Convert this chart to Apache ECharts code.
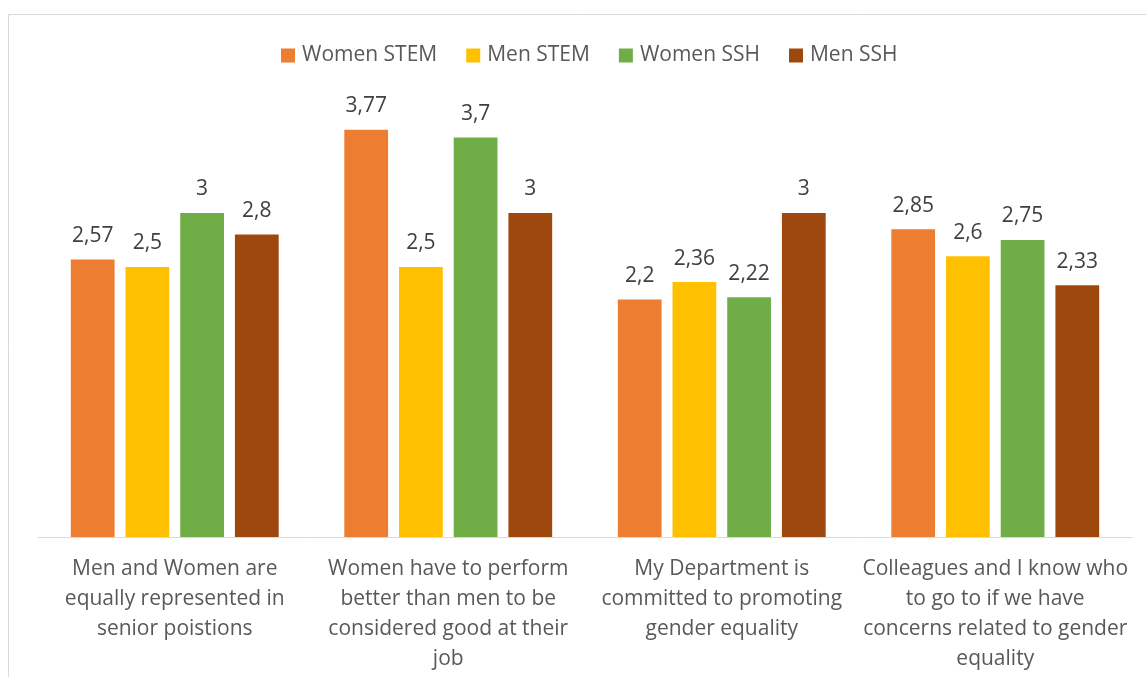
<!DOCTYPE html>
<html>
<head>
<meta charset="utf-8">
<style>
html,body{margin:0;padding:0;background:#fff;}
#chart{width:1146px;height:677px;}
</style>
<script src="https://cdn.jsdelivr.net/npm/echarts@6/dist/echarts.min.js"></script>
</head>
<body>
<div id="chart"></div>
<script>
const categories = [
  "Men and Women are\nequally represented in\nsenior poistions",
  "Women have to perform\nbetter than men to be\nconsidered good at their\njob",
  "My Department is\ncommitted to promoting\ngender equality",
  "Colleagues and I know who\nto go to if we have\nconcerns related to gender\nequality"
];
const seriesNames = ["Women STEM", "Men STEM", "Women SSH", "Men SSH"];
const womenSTEM = [2.57, 3.77, 2.2, 2.85];
const menSTEM = [2.5, 2.5, 2.36, 2.6];
const womenSSH = [3, 3.7, 2.22, 2.75];
const menSSH = [2.8, 3, 3, 2.33];
const colors = ["#ED7D31", "#FFC000", "#70AD47", "#9E480E"];

const FONT = "'Open Sans', sans-serif";
const allData = [womenSTEM, menSTEM, womenSSH, menSSH];

const chart = echarts.init(document.getElementById('chart'), null, {renderer: 'canvas'});
chart.setOption({
  animation: false,
  backgroundColor: '#ffffff',
  color: colors,
  graphic: [{
    type: 'rect',
    silent: true,
    z: -10,
    shape: {x: 8.5, y: 14.5, width: 1300, height: 800},
    style: {fill: 'none', stroke: '#D9D9D9', lineWidth: 1}
  }],
  legend: {
    left: 276,
    top: 40,
    itemWidth: 14,
    itemHeight: 14,
    itemGap: 29,
    icon: 'rect',
    data: seriesNames,
    textStyle: {fontFamily: FONT, fontSize: 21, color: '#595959', padding: [0, 0, 0, 2]}
  },
  grid: {left: 38, right: 14, top: 105, bottom: 140, containLabel: false},
  xAxis: {
    type: 'category',
    data: categories,
    axisTick: {show: false},
    axisLine: {lineStyle: {color: '#D9D9D9', width: 1}},
    axisLabel: {
      interval: 0,
      margin: 17,
      fontFamily: FONT,
      fontSize: 21,
      lineHeight: 30,
      color: '#595959',
      align: 'center'
    }
  },
  yAxis: {
    type: 'value',
    min: 0,
    max: 4,
    show: false,
    splitLine: {show: false}
  },
  series: seriesNames.map((name, i) => ({
    name: name,
    type: 'bar',
    data: allData[i],
    barGap: '25%',
    barCategoryGap: '24%',
    itemStyle: {color: colors[i]},
    label: {
      show: true,
      position: 'top',
      distance: 13,
      fontFamily: FONT,
      fontSize: 21,
      color: '#404040',
      formatter: p => String(p.value).replace('.', ',')
    }
  }))
});
</script>
</body>
</html>
